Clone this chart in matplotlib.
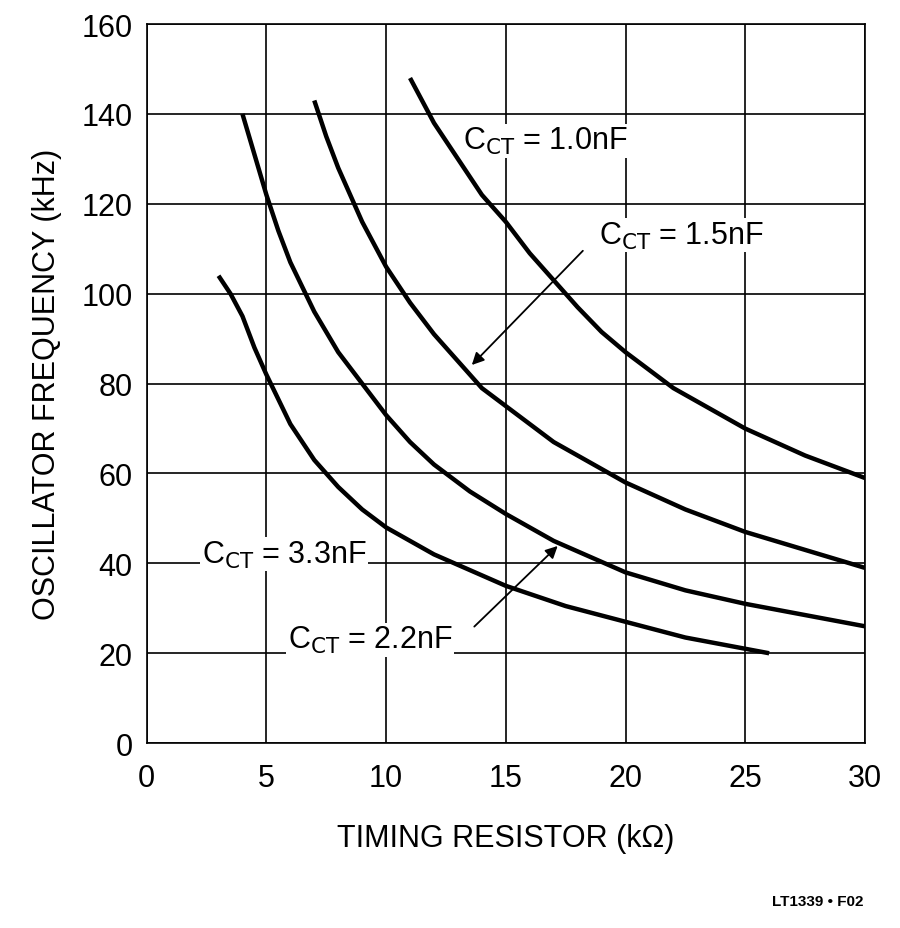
import matplotlib
matplotlib.use("Agg")
import matplotlib.pyplot as plt

# curve data (R in kOhm, f in kHz)
r_10 = [11, 11.5, 12, 12.5, 13, 14, 15, 16, 17, 18, 19, 20, 22, 25, 27.5, 30]
f_10 = [148, 143, 138, 134, 130, 122, 116, 109, 103, 97, 91.5, 87, 79, 70, 64, 59]
r_15 = [7, 7.5, 8, 8.5, 9, 10, 11, 12, 13, 14, 15, 17, 20, 22.5, 25, 27.5, 30]
f_15 = [143, 135, 128, 122, 116, 106, 98, 91, 85, 79, 75, 67, 58, 52, 47, 43, 39]
r_22 = [4, 4.5, 5, 5.5, 6, 7, 8, 9, 10, 11, 12, 13.5, 15, 17, 20, 22.5, 25, 27.5, 30]
f_22 = [140, 131, 122, 114, 107, 96, 87, 80, 73, 67, 62, 56, 51, 45, 38, 34, 31, 28.5, 26]
r_33 = [3, 3.5, 4, 4.5, 5, 6, 7, 8, 9, 10, 12, 15, 17.5, 20, 22.5, 25, 26]
f_33 = [104, 100, 95, 88, 82, 71, 63, 57, 52, 48, 42, 35, 30.5, 27, 23.5, 21, 20]

plt.rcParams["font.family"] = ["Liberation Sans", "DejaVu Sans"]
fig = plt.figure(figsize=(9, 9.29), dpi=100)
ax = fig.add_axes([0.163, 0.199, 0.798, 0.774])

for r, f in [(r_10, f_10), (r_15, f_15), (r_22, f_22), (r_33, f_33)]:
    ax.plot(r, f, color="black", lw=3.2, solid_capstyle="butt",
            solid_joinstyle="round", zorder=3)

ax.set_xlim(0, 30)
ax.set_ylim(0, 160)
ax.set_xticks(range(0, 31, 5))
ax.set_yticks(range(0, 161, 20))
ax.grid(True, color="black", lw=1.2)
for s in ax.spines.values():
    s.set_linewidth(1.2)
ax.tick_params(axis="x", length=0, labelsize=22, pad=14)
ax.tick_params(axis="y", length=0, labelsize=22, pad=10)
ax.set_xlabel("TIMING RESISTOR (kΩ)", fontsize=22, labelpad=22)
ax.set_ylabel("OSCILLATOR FREQUENCY (kHz)", fontsize=22, labelpad=14)

box = dict(facecolor="white", edgecolor="none", pad=1)
kw = dict(fontsize=22, va="center", ha="left", bbox=box, zorder=5)
ax.text(13.2, 134, r"C$_{\rm CT}$ = 1.0nF", **kw)
ax.text(18.9, 113, r"C$_{\rm CT}$ = 1.5nF", **kw)
ax.text(2.3, 42, r"C$_{\rm CT}$ = 3.3nF", **kw)
ax.text(5.9, 23, r"C$_{\rm CT}$ = 2.2nF", **kw)

arrow = dict(arrowstyle="-|>", color="black", lw=1.3, mutation_scale=18)
ax.annotate("", xy=(13.5, 83.7), xytext=(18.3, 110), arrowprops=arrow, zorder=6)
ax.annotate("", xy=(17.25, 44.3), xytext=(13.6, 25.5), arrowprops=arrow, zorder=6)

fig.text(0.96, 0.025, "LT1339 • F02", fontsize=11, ha="right", fontweight="bold")

fig.savefig("out.png", dpi=100)
